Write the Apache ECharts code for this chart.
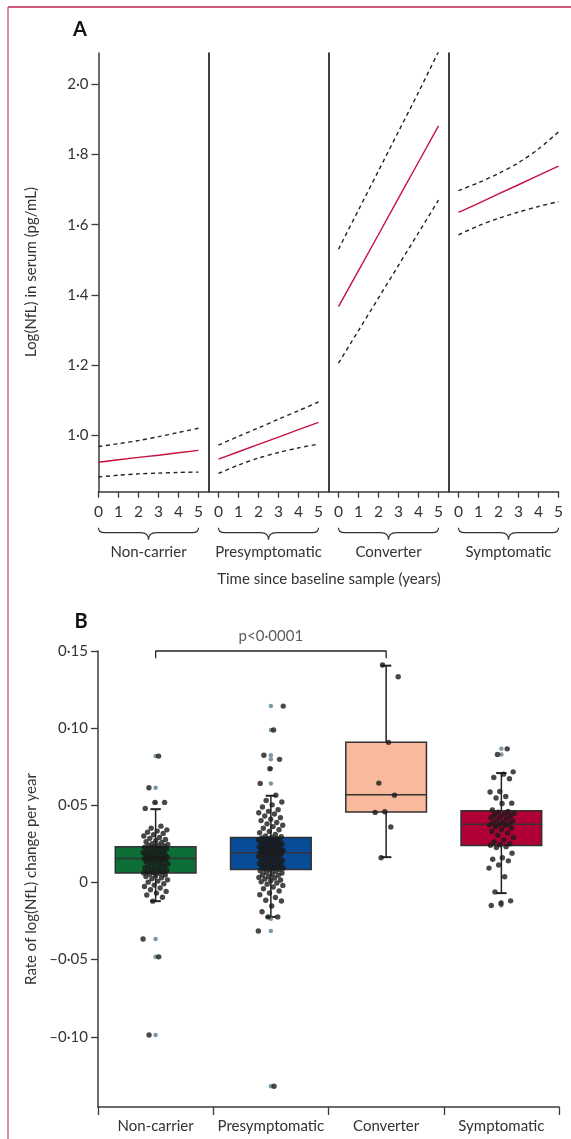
<!DOCTYPE html>
<html><head><meta charset="utf-8">
<script src="https://cdn.jsdelivr.net/npm/echarts@6/dist/echarts.min.js"></script>
<style>html,body{margin:0;padding:0;background:#fff}#c{width:571px;height:1139px}</style>
</head><body><div id="c"></div>
<script>
// ---------- Panel A data ----------
const years = [0, 1, 2, 3, 4, 5];
const groups = ['Non-carrier', 'Presymptomatic', 'Converter', 'Symptomatic'];
const yTicksA = [1.0, 1.2, 1.4, 1.6, 1.8, 2.0];
const fitNonCarrier = [0.922, 0.929, 0.936, 0.942, 0.949, 0.956];
const lowNonCarrier = [0.880, 0.885, 0.889, 0.891, 0.893, 0.894];
const upNonCarrier = [0.967, 0.975, 0.984, 0.995, 1.007, 1.019];
const fitPresymptomatic = [0.931, 0.952, 0.973, 0.994, 1.015, 1.036];
const lowPresymptomatic = [0.890, 0.914, 0.934, 0.950, 0.963, 0.974];
const upPresymptomatic = [0.971, 0.996, 1.020, 1.045, 1.069, 1.094];
const fitConverter = [1.366, 1.469, 1.572, 1.676, 1.779, 1.882];
const lowConverter = [1.205, 1.298, 1.391, 1.484, 1.577, 1.670];
const upConverter = [1.530, 1.642, 1.754, 1.866, 1.978, 2.094];
const fitSymptomatic = [1.635, 1.661, 1.688, 1.714, 1.741, 1.767];
const lowSymptomatic = [1.571, 1.597, 1.618, 1.636, 1.652, 1.666];
const upSymptomatic = [1.697, 1.720, 1.746, 1.777, 1.816, 1.865];

// ---------- Panel B data ----------
const yTicksB = [-0.10, -0.05, 0, 0.05, 0.10, 0.15];
// box stats: [lower whisker, Q1, median, Q3, upper whisker]
const boxNonCarrier = [-0.0121, 0.0062, 0.0156, 0.0231, 0.0475];
const boxPresymptomatic = [-0.0223, 0.0084, 0.0192, 0.0292, 0.0562];
const boxConverter = [0.0164, 0.0456, 0.0568, 0.0908, 0.1405];
const boxSymptomatic = [-0.0069, 0.0240, 0.0378, 0.0464, 0.0709];
const outNonCarrier = [0.0819, 0.0614, 0.0519, -0.0366, -0.0482, -0.0988];
const outPresymptomatic = [0.1143, 0.0988, 0.0824, 0.0798, 0.0737, 0.0642, -0.0235, -0.0314, -0.1321];
const outConverter = [];
const outSymptomatic = [0.0866, 0.0830, -0.0126, -0.0149];
const ptsNonCarrier = [0.0819, 0.0614, 0.0519, 0.0519, 0.0480,
  0.0365, 0.0352, 0.0341, 0.0333, 0.0326, 0.0318, 0.0309, 0.0301, 0.0292, 0.0286, 0.0279, 0.0271, 0.0264, 0.0259, 0.0251, 0.0246, 0.0241, 0.0238, 0.0235, 0.0232,
  0.0228, 0.0224, 0.0221, 0.0216, 0.0211, 0.0206, 0.0201, 0.0198, 0.0194, 0.0190, 0.0186, 0.0181, 0.0178, 0.0174, 0.0171, 0.0167, 0.0164, 0.0161, 0.0159, 0.0157, 0.0156,
  0.0153, 0.0149, 0.0146, 0.0142, 0.0138, 0.0133, 0.0129, 0.0124, 0.0119, 0.0114, 0.0109, 0.0104, 0.0099, 0.0094, 0.0089, 0.0084, 0.0079, 0.0074, 0.0070, 0.0067, 0.0064, 0.0062,
  0.0059, 0.0054, 0.0049, 0.0043, 0.0038, 0.0031, 0.0024, 0.0017, 0.0009, 0.0002, -0.0008, -0.0017, -0.0026, -0.0036, -0.0047, -0.0058, -0.0069, -0.0081, -0.0096, -0.0121,
  -0.0366, -0.0482, -0.0988];
const ptsPresymptomatic = [0.1143, 0.0988, 0.0824, 0.0798, 0.0737, 0.0642, 0.0566,
  0.0532, 0.0521, 0.0503, 0.0489, 0.0472, 0.0461, 0.0452, 0.0444, 0.0431, 0.0420, 0.0410, 0.0401, 0.0389, 0.0380, 0.0371, 0.0362, 0.0351, 0.0342, 0.0331, 0.0322, 0.0311, 0.0302, 0.0296,
  0.0291, 0.0288, 0.0283, 0.0282, 0.0277, 0.0273, 0.0271, 0.0266, 0.0264, 0.0258, 0.0257, 0.0252, 0.0249, 0.0246, 0.0241, 0.0240, 0.0236, 0.0231, 0.0229, 0.0226, 0.0222, 0.0219, 0.0217, 0.0213, 0.0210, 0.0207, 0.0204, 0.0203, 0.0199, 0.0197, 0.0195, 0.0193,
  0.0190, 0.0187, 0.0183, 0.0181, 0.0176, 0.0174, 0.0169, 0.0167, 0.0163, 0.0158, 0.0155, 0.0151, 0.0148, 0.0143, 0.0141, 0.0137, 0.0133, 0.0129, 0.0126, 0.0121, 0.0118, 0.0114, 0.0111, 0.0107, 0.0103, 0.0099, 0.0096, 0.0093, 0.0090, 0.0087, 0.0085,
  0.0081, 0.0076, 0.0072, 0.0066, 0.0061, 0.0055, 0.0049, 0.0046, 0.0039, 0.0033, 0.0029, 0.0022, 0.0016, 0.0011, 0.0004, -0.0003, -0.0011, -0.0019, -0.0029, -0.0041, -0.0055, -0.0068, -0.0080, -0.0097, -0.0115, -0.0120, -0.0152, -0.0190, -0.0223, -0.0223,
  -0.0314, -0.1321];
const ptsConverter = [0.1409, 0.1333, 0.0908, 0.0644, 0.0566, 0.0458, 0.0454, 0.0359, 0.0160];
const ptsSymptomatic = [0.0866, 0.0830, 0.0717, 0.0702, 0.0680, 0.0672, 0.0590, 0.0586, 0.0557, 0.0547, 0.0514, 0.0512, 0.0470, 0.0460, 0.0455,
  0.0448, 0.0443, 0.0439, 0.0431, 0.0425, 0.0419, 0.0412, 0.0405, 0.0398, 0.0391, 0.0386, 0.0380, 0.0378, 0.0374, 0.0369, 0.0361, 0.0352, 0.0343, 0.0331, 0.0320, 0.0306, 0.0291, 0.0276, 0.0262, 0.0251, 0.0244, 0.0241,
  0.0232, 0.0226, 0.0190, 0.0160, 0.0150, 0.0140, 0.0113, 0.0093, 0.0037, -0.0061, -0.0119, -0.0136, -0.0149];
const pLabel = 'p<0·0001';
const bracketFrom = 0, bracketTo = 2, bracketTop = 0.15, bracketFoot = 0.1453;

// ---------- assembly ----------
const trajectories = [
  {fit: fitNonCarrier, lo: lowNonCarrier, up: upNonCarrier},
  {fit: fitPresymptomatic, lo: lowPresymptomatic, up: upPresymptomatic},
  {fit: fitConverter, lo: lowConverter, up: upConverter},
  {fit: fitSymptomatic, lo: lowSymptomatic, up: upSymptomatic}
];
const boxes = [boxNonCarrier, boxPresymptomatic, boxConverter, boxSymptomatic];
const outs = [outNonCarrier, outPresymptomatic, outConverter, outSymptomatic];
const pts = [ptsNonCarrier, ptsPresymptomatic, ptsConverter, ptsSymptomatic];
const boxColors = ['#0d6e37', '#084c98', '#f9b99d', '#b00036'];

const FONT = 'Lato';
const TXT = '#333';
const AX = '#3a3a3a';
const yMinA = 0.838, yMaxA = 2.09;
const yMinB = -0.1455, yMaxB = 0.15;

const gridA = [
  {left: 98.5, width: 110, top: 53, height: 438.7, xmin: 0, xmax: 5.5},
  {left: 208.5, width: 120, top: 53, height: 438.7, xmin: -0.5, xmax: 5.5},
  {left: 328.5, width: 120, top: 53, height: 438.7, xmin: -0.5, xmax: 5.5},
  {left: 448.5, width: 110, top: 53, height: 438.7, xmin: -0.5, xmax: 5}
];

const grid = [], xAxis = [], yAxis = [], series = [];
gridA.forEach((g, i) => {
  grid.push({left: g.left, width: g.width, top: g.top, height: g.height});
  xAxis.push({
    type: 'value', gridIndex: i, min: g.xmin, max: g.xmax,
    axisLine: {show: true, onZero: false, lineStyle: {color: AX, width: 1.5}},
    axisTick: {show: true, customValues: years, length: 6, lineStyle: {color: AX, width: 1.3}},
    axisLabel: {show: true, customValues: years, margin: 12, fontSize: 15.5, color: TXT, fontFamily: FONT},
    splitLine: {show: false}
  });
  yAxis.push({
    type: 'value', gridIndex: i, min: yMinA, max: yMaxA,
    axisLine: {show: true, onZero: false, lineStyle: {color: i === 0 ? AX : '#111', width: i === 0 ? 1.5 : 1.6}},
    axisTick: {show: i === 0, customValues: yTicksA, length: 7, lineStyle: {color: AX, width: 1.3}},
    axisLabel: {show: i === 0, customValues: yTicksA, margin: 10, fontSize: 15, color: TXT, fontFamily: FONT,
      formatter: v => v.toFixed(1).replace('.', '·')},
    splitLine: {show: false}
  });
  const t = trajectories[i];
  const mk = arr => years.map((y, k) => [y, arr[k]]);
  series.push({type: 'line', xAxisIndex: i, yAxisIndex: i, data: mk(t.up), symbol: 'none', smooth: 0.3,
    lineStyle: {color: '#222', width: 1.4, type: [4, 3.5]}, silent: true});
  series.push({type: 'line', xAxisIndex: i, yAxisIndex: i, data: mk(t.lo), symbol: 'none', smooth: 0.3,
    lineStyle: {color: '#222', width: 1.4, type: [4, 3.5]}, silent: true});
  series.push({type: 'line', xAxisIndex: i, yAxisIndex: i, data: mk(t.fit), symbol: 'none',
    lineStyle: {color: '#c8103e', width: 1.4}, silent: true});
  series.push({type: 'custom', xAxisIndex: i, yAxisIndex: i, clip: false, silent: true,
    data: [[i]],
    renderItem: function (params, api) {
      const gi = api.value(0);
      const a = api.coord([years[0], yMinA]), b = api.coord([years[years.length - 1], yMinA]);
      const x0 = a[0], x1 = b[0], xm = (x0 + x1) / 2, y0 = a[1] + 36;
      const dv = 5, dh = 6, tip = 7, ch = 8;
      const p = `M${x0} ${y0}Q${x0} ${y0 + dv} ${x0 + dh} ${y0 + dv}L${xm - ch} ${y0 + dv}Q${xm} ${y0 + dv} ${xm} ${y0 + dv + tip}` +
        `Q${xm} ${y0 + dv} ${xm + ch} ${y0 + dv}L${x1 - dh} ${y0 + dv}Q${x1} ${y0 + dv} ${x1} ${y0}`;
      return {type: 'group', children: [
        {type: 'path', shape: {pathData: p}, style: {fill: null, stroke: '#333', lineWidth: 1.2}},
        {type: 'text', x: xm, y: y0 + 24, style: {text: groups[gi], fill: TXT, font: '15px ' + FONT, align: 'center', verticalAlign: 'middle'}}
      ]};
    }
  });
});

// Panel B
const gB = 4;
grid.push({left: 98, right: 12, top: 651, bottom: 32});
xAxis.push({
  type: 'category', gridIndex: gB, data: groups, boundaryGap: true, position: 'bottom',
  axisLine: {show: true, onZero: false, lineStyle: {color: AX, width: 1.5}},
  axisTick: {show: true, alignWithLabel: false, interval: 0, length: 8, lineStyle: {color: AX, width: 1.3}},
  axisLabel: {margin: 12, fontSize: 15, color: TXT, fontFamily: FONT, interval: 0},
  splitLine: {show: false}
});
xAxis.push({type: 'value', gridIndex: gB, min: -0.5, max: 3.5, show: false,
  axisLine: {show: false, onZero: false}});
yAxis.push({
  type: 'value', gridIndex: gB, min: yMinB, max: yMaxB, position: 'left',
  axisLine: {show: true, onZero: false, lineStyle: {color: AX, width: 1.5}},
  axisTick: {show: true, customValues: yTicksB, length: 7, lineStyle: {color: AX, width: 1.3}},
  axisLabel: {customValues: yTicksB, margin: 10, fontSize: 15, color: TXT, fontFamily: FONT,
    formatter: v => Math.abs(v) < 1e-9 ? '0' : (v < 0 ? '–' : '') + Math.abs(v).toFixed(2).replace('.', '·')},
  splitLine: {show: false}
});
const xiB = 5, yiB = 4;
series.push({
  type: 'custom', xAxisIndex: xiB, yAxisIndex: yiB, silent: true,
  data: boxes.map((b, k) => [k, ...b]),
  renderItem: function (params, api) {
    const x = api.value(0);
    const lo = api.coord([x, api.value(1)]), q1 = api.coord([x, api.value(2)]), md = api.coord([x, api.value(3)]),
      q3 = api.coord([x, api.value(4)]), hi = api.coord([x, api.value(5)]);
    const hw = api.size([0.7, 0])[0] / 2, cw = api.size([0.09, 0])[0] / 2, cx = lo[0];
    return {type: 'group', children: [
      {type: 'line', shape: {x1: cx, y1: hi[1], x2: cx, y2: lo[1]}, style: {stroke: '#222', lineWidth: 1.5}},
      {type: 'line', shape: {x1: cx - cw, y1: hi[1], x2: cx + cw, y2: hi[1]}, style: {stroke: '#222', lineWidth: 2}},
      {type: 'line', shape: {x1: cx - cw, y1: lo[1], x2: cx + cw, y2: lo[1]}, style: {stroke: '#222', lineWidth: 2}},
      {type: 'rect', shape: {x: cx - hw, y: q3[1], width: 2 * hw, height: q1[1] - q3[1]},
        style: {fill: boxColors[params.dataIndex], stroke: '#333', lineWidth: 1.5}},
      {type: 'line', shape: {x1: cx - hw, y1: md[1], x2: cx + hw, y2: md[1]}, style: {stroke: '#333', lineWidth: 1.5}}
    ]};
  }
});
const outData = [];
outs.forEach((arr, g) => arr.forEach(v => outData.push([g, v])));
series.push({type: 'scatter', xAxisIndex: xiB, yAxisIndex: yiB, data: outData, symbolSize: 4.5,
  itemStyle: {color: '#5d7f90'}, silent: true});
const jit = (k, g) => ((((k + 1) * 0.6180339887 + g * 0.37) % 1) - 0.5) * 0.22;
const ptData = [];
pts.forEach((arr, g) => arr.forEach((v, k) => ptData.push([g + jit(k, g), v])));
series.push({type: 'scatter', xAxisIndex: xiB, yAxisIndex: yiB, data: ptData, symbolSize: 5.4,
  itemStyle: {color: '#1a1a1a'}, silent: true});
series.push({type: 'line', xAxisIndex: xiB, yAxisIndex: yiB, clip: false, symbol: 'none', silent: true,
  data: [[bracketFrom, bracketFoot], [bracketFrom, bracketTop], [bracketTo, bracketTop], [bracketTo, bracketFoot]],
  lineStyle: {color: '#222', width: 1.3}});
series.push({type: 'scatter', xAxisIndex: xiB, yAxisIndex: yiB, clip: false, silent: true,
  data: [[(bracketFrom + bracketTo) / 2, bracketTop]], symbolSize: 0.01,
  label: {show: true, position: 'top', distance: 7, formatter: pLabel, fontSize: 15, color: TXT, fontFamily: FONT}});

const chart = echarts.init(document.getElementById('c'), null, {renderer: 'canvas'});
chart.setOption({
  animation: false,
  backgroundColor: '#fff',
  textStyle: {fontFamily: FONT},
  grid, xAxis, yAxis, series,
  graphic: [
    {type: 'line', shape: {x1: 8, y1: 7, x2: 571, y2: 7}, style: {stroke: '#c0204d', lineWidth: 1.5}},
    {type: 'line', shape: {x1: 8, y1: 7, x2: 8, y2: 1139}, style: {stroke: '#cf3f6c', lineWidth: 1.2}},
    {type: 'text', x: 80, y: 30, style: {text: 'A', font: 'bold 20px ' + FONT, fill: '#111', align: 'center', verticalAlign: 'middle'}},
    {type: 'text', x: 81, y: 622, style: {text: 'B', font: 'bold 20px ' + FONT, fill: '#111', align: 'center', verticalAlign: 'middle'}},
    {type: 'text', x: 31, y: 272, rotation: Math.PI / 2, style: {text: 'Log(NfL) in serum (pg/mL)', font: '15px ' + FONT, fill: TXT, align: 'center', verticalAlign: 'middle'}},
    {type: 'text', x: 31, y: 879, rotation: Math.PI / 2, style: {text: 'Rate of log(NfL) change per year', font: '15px ' + FONT, fill: TXT, align: 'center', verticalAlign: 'middle'}},
    {type: 'text', x: 329, y: 579, style: {text: 'Time since baseline sample (years)', font: '15px ' + FONT, fill: TXT, align: 'center', verticalAlign: 'middle'}}
  ]
});
</script></body></html>
